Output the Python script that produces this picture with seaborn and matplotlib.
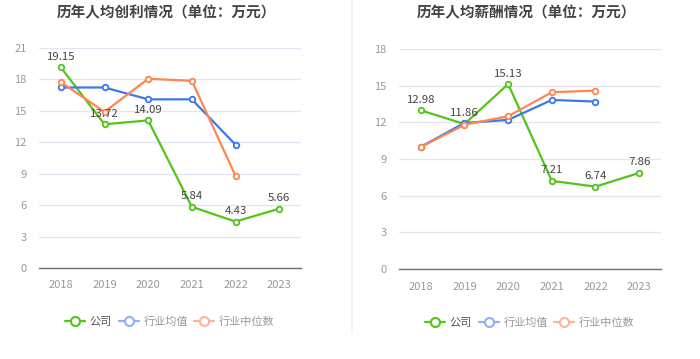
import matplotlib
matplotlib.use("Agg")
import matplotlib.pyplot as plt
import seaborn as sns
import pandas as pd
from matplotlib.lines import Line2D

sns.set_theme(style="white")
plt.rcParams['font.family'] = ['Noto Sans CJK SC', 'DejaVu Sans']

years = ["2018", "2019", "2020", "2021", "2022", "2023"]
series_names = ["公司", "行业均值", "行业中位数"]

profit_company = [19.15, 13.72, 14.09, 5.84, 4.43, 5.66]
profit_avg = [17.23, 17.23, 16.1, 16.1, 11.77, None]
profit_median = [17.74, 14.9, 18.06, 17.87, 8.8, None]

salary_company = [12.98, 11.86, 15.13, 7.21, 6.74, 7.86]
salary_avg = [10.0, 11.95, 12.2, 13.83, 13.7, None]
salary_median = [9.98, 11.8, 12.5, 14.46, 14.6, None]

profit_ticks = [0, 3, 6, 9, 12, 15, 18, 21]
salary_ticks = [0, 3, 6, 9, 12, 15, 18]

titles = ["历年人均创利情况（单位：万元）", "历年人均薪酬情况（单位：万元）"]

colors = ["#52c41a", "#3b78f0", "#ff8552"]
legend_colors = ["#52c41a", "#8eb0f6", "#ffb29a"]
legend_text_colors = ["#555555", "#999999", "#999999"]


def build_df(vals):
    rows = []
    for name, arr in zip(series_names, vals):
        for i, v in enumerate(arr):
            if v is not None:
                rows.append({"x": i, "year": years[i], "value": v, "series": name})
    return pd.DataFrame(rows)


fig = plt.figure(figsize=(7.0, 3.59), dpi=100)
axes = [fig.add_axes([39 / 700, 91 / 359, 262 / 700, 220 / 359]),
        fig.add_axes([399 / 700, 90 / 359, 262 / 700, 220 / 359])]

datasets = [
    ([profit_company, profit_avg, profit_median], profit_ticks),
    ([salary_company, salary_avg, salary_median], salary_ticks),
]

title_x = [166 / 700, 526 / 700]

for k, (ax, (vals, ticks)) in enumerate(zip(axes, datasets)):
    df = build_df(vals)
    sns.lineplot(data=df, x="x", y="value", hue="series", hue_order=series_names,
                 palette=colors, marker="o", markersize=4, markerfacecolor="white",
                 markeredgewidth=1.3, linewidth=1.6, ax=ax, legend=False,
                 sort=False, estimator=None)
    for line, c in zip(ax.get_lines(), colors):
        line.set_markeredgecolor(c)
    ax.set_xlim(-0.5, 5.5)
    ax.set_ylim(0, ticks[-1])
    ax.set_yticks(ticks)
    ax.set_yticklabels([str(t) for t in ticks])
    ax.set_xticks(range(len(years)))
    ax.set_xticklabels(years)
    ax.set_xlabel("")
    ax.set_ylabel("")
    for s in ["top", "right", "left"]:
        ax.spines[s].set_visible(False)
    ax.spines["bottom"].set_color("#6e7079")
    ax.spines["bottom"].set_linewidth(1.0)
    ax.grid(axis="y", color="#e0e6f1", linewidth=0.9)
    ax.grid(axis="x", visible=False)
    ax.set_axisbelow(True)
    ax.tick_params(axis="x", colors="#6e7079", length=4, width=1.0, direction="out",
                   labelcolor="#999999", labelsize=8, pad=5)
    ax.tick_params(axis="y", length=0, labelcolor="#999999", labelsize=8, pad=9)
    for i, v in enumerate(vals[0]):
        ax.annotate(f"{v:.2f}", (i, v), xytext=(0, 4), textcoords="offset points",
                    ha="center", va="bottom", fontsize=8.2, color="#444444")
    fig.text(title_x[k], 1 - 12 / 359, titles[k], ha="center", va="center",
             fontsize=10.5, fontweight="bold", color="#444444")

    handles = [Line2D([0], [0], color=c, marker="o", markersize=6.5,
                      markerfacecolor="white", markeredgecolor=c, markeredgewidth=1.5,
                      linewidth=1.6) for c in legend_colors]
    leg = ax.legend(handles, series_names, loc="center", bbox_to_anchor=(0.5, -0.245),
                    ncol=3, frameon=False, fontsize=8, handlelength=1.8,
                    handletextpad=0.4, columnspacing=0.6)
    for t, tc in zip(leg.get_texts(), legend_text_colors):
        t.set_color(tc)

fig.add_artist(Line2D([352 / 700, 352 / 700], [26 / 359, 1.0], color="#f2f2f2",
                      linewidth=1.5, transform=fig.transFigure))

fig.savefig("out.png", dpi=100, facecolor="white")
